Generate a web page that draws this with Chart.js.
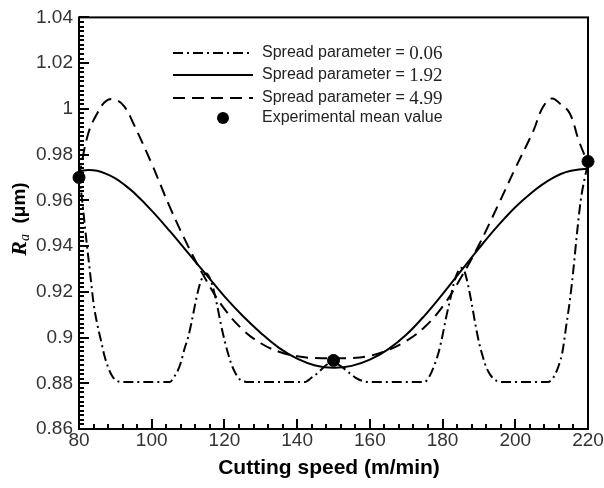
<!DOCTYPE html>
<html>
<head>
<meta charset="utf-8">
<script src="https://cdn.jsdelivr.net/npm/chart.js@4"></script>
<style>
  body{ margin:0; background:#fff; }
  #wrap{ width:604px; height:488px; position:relative; }
</style>
</head>
<body>
<div id="wrap"><canvas id="chart"></canvas></div>
<script>
// cutting speed grid for the two smooth curves
const speedMain = [80, 82.5, 85, 87.5, 90, 92.5, 95, 100, 105, 110, 115, 120, 125, 130, 135, 140, 145, 150,
  155, 160, 165, 170, 175, 180, 185, 190, 195, 200, 205, 207.5, 210, 212.5, 215, 217.5, 220];
const raSpread192 = [0.9726, 0.9733, 0.9729, 0.9716, 0.9696, 0.9668, 0.9635, 0.9555, 0.9465, 0.937, 0.9275,
  0.918, 0.9095, 0.902, 0.8955, 0.8908, 0.8878, 0.8868, 0.8876, 0.8903, 0.8948, 0.9012, 0.9095, 0.919,
  0.929, 0.939, 0.9485, 0.957, 0.964, 0.967, 0.9695, 0.9715, 0.9728, 0.9735, 0.9737];
const raSpread499 = [0.970, 0.989, 0.998, 1.0035, 1.004, 1.001, 0.9935, 0.976, 0.957, 0.940, 0.925, 0.9125,
  0.9035, 0.8975, 0.8938, 0.8918, 0.891, 0.891, 0.891, 0.892, 0.8945, 0.8985, 0.9045, 0.9135, 0.926,
  0.9405, 0.957, 0.974, 0.9905, 1.0005, 1.0045, 1.002, 0.998, 0.986, 0.976];

// narrow spread curve needs a finer grid
const speed006 = [80, 81, 82, 83, 84, 85, 86, 87, 88, 89, 90, 92, 105, 106, 107, 108, 109, 110, 111, 112, 113,
  114, 115, 116, 117, 118, 119, 120, 121, 122, 123, 124, 125, 127, 142, 144, 146, 148, 150, 152, 154, 156,
  158, 160, 175, 176, 177, 178, 179, 180, 181, 182, 183, 184, 185, 186, 187, 188, 189, 190, 191, 192, 193,
  194, 195, 197, 209, 210, 211, 212, 213, 214, 215, 216, 217, 218, 219, 220];
const raSpread006 = [0.972, 0.958, 0.943, 0.929, 0.915, 0.906, 0.899, 0.892, 0.887, 0.8835, 0.8815, 0.8805,
  0.8805, 0.8825, 0.885, 0.889, 0.895, 0.900, 0.907, 0.915, 0.922, 0.9265, 0.928, 0.926, 0.921, 0.914,
  0.906, 0.899, 0.893, 0.888, 0.8845, 0.882, 0.881, 0.8805, 0.8805, 0.8825, 0.885, 0.888, 0.889, 0.8875,
  0.885, 0.8825, 0.881, 0.8805, 0.8805, 0.882, 0.885, 0.889, 0.894, 0.901, 0.909, 0.916, 0.923, 0.928,
  0.9305, 0.929, 0.923, 0.915, 0.906, 0.898, 0.892, 0.887, 0.884, 0.882, 0.881, 0.8805, 0.8805, 0.8815,
  0.884, 0.888, 0.894, 0.905, 0.916, 0.930, 0.946, 0.960, 0.969, 0.976];

// experimental means
const speedExp = [80, 150, 220];
const raExp = [0.970, 0.890, 0.977];

const legendLabels = ['Spread parameter = ', 'Spread parameter = ', 'Spread parameter = ', 'Experimental mean value'];
const legendValues = ['0.06', '1.92', '4.99', ''];

const xTicks = [80, 100, 120, 140, 160, 180, 200, 220];
const yTicks = [0.86, 0.88, 0.9, 0.92, 0.94, 0.96, 0.98, 1, 1.02, 1.04];

const DASHDOT = [10, 4, 2, 4];
const DASHED = [12, 7];
const SANS = '"Liberation Sans", Arial, sans-serif';
const SERIF = '"Liberation Serif", "Times New Roman", serif';

function pts(xs, ys){ return xs.map((x, i) => ({x: x, y: ys[i]})); }

function lineSet(label, xs, ys, dash, mono){
  return {
    label: label, data: pts(xs, ys), borderColor: '#000', borderWidth: 2, borderDash: dash,
    pointRadius: 0, fill: false, tension: 0.4,
    cubicInterpolationMode: mono ? 'monotone' : 'default'
  };
}

// ticks inside the frame, box, legend and axis titles
const decor = {
  id: 'decor',
  afterDraw(chart){
    const ctx = chart.ctx;
    const a = chart.chartArea;
    const xs = chart.scales.x, ys = chart.scales.y;
    ctx.save();
    ctx.setLineDash([]);
    ctx.fillStyle = '#000';

    // frame
    ctx.lineWidth = 2;
    ctx.strokeStyle = '#000';
    ctx.strokeRect(a.left, a.top, a.right - a.left, a.bottom - a.top);

    // inward ticks: minor every 4 on x, every 0.002 on y
    for(let v = 80; v <= 220; v += 4){
      const px = Math.round(xs.getPixelForValue(v));
      const len = (v - 80) % 20 === 0 ? 10 : 5;
      ctx.fillRect(px - 1, a.bottom - len, 2, len);
    }
    for(let i = 0; i <= 90; i++){
      const py = Math.round(ys.getPixelForValue(0.86 + i * 0.002));
      const len = i % 10 === 0 ? 10 : 5;
      ctx.fillRect(a.left, py - 1, len, 2);
    }

    // legend
    const dashes = [DASHDOT, [], DASHED];
    const rows = [53, 75, 98, 118];
    ctx.textBaseline = 'middle';
    ctx.textAlign = 'left';
    rows.forEach((ry, i) => {
      ctx.fillStyle = '#000';
      if(i < 3){
        ctx.setLineDash(dashes[i]);
        ctx.lineWidth = 2;
        ctx.beginPath(); ctx.moveTo(173, ry); ctx.lineTo(253, ry); ctx.stroke();
        ctx.setLineDash([]);
      } else {
        ctx.beginPath(); ctx.arc(223, ry, 6, 0, Math.PI * 2); ctx.fill();
      }
      ctx.fillStyle = '#222';
      ctx.font = '16px ' + SANS;
      ctx.fillText(legendLabels[i], 262, ry);
      const w = ctx.measureText(legendLabels[i]).width;
      ctx.font = '19px ' + SERIF;
      ctx.fillText(legendValues[i], 262 + w, ry + 1);
    });

    // x title
    ctx.fillStyle = '#000';
    ctx.font = 'bold 21px ' + SANS;
    ctx.textAlign = 'center';
    ctx.fillText('Cutting speed (m/min)', 329, 468);

    // y title with subscript
    ctx.translate(20, 219);
    ctx.rotate(-Math.PI / 2);
    const p1 = 'R', p2 = 'a', p3 = '  (\u03bcm)';
    ctx.font = 'bold italic 22px ' + SERIF;
    const w1 = ctx.measureText(p1).width;
    ctx.font = 'italic 14px ' + SERIF;
    const w2 = ctx.measureText(p2).width;
    ctx.font = 'bold 19px ' + SANS;
    const w3 = ctx.measureText(p3).width;
    let sx = -(w1 + w2 + w3) / 2;
    ctx.textAlign = 'left';
    ctx.font = 'bold italic 22px ' + SERIF;
    ctx.fillText(p1, sx, 0); sx += w1;
    ctx.font = 'italic 14px ' + SERIF;
    ctx.fillText(p2, sx, 5); sx += w2;
    ctx.font = 'bold 19px ' + SANS;
    ctx.fillText(p3, sx, 0);
    ctx.restore();
  }
};

new Chart(document.getElementById('chart').getContext('2d'), {
  type: 'scatter',
  data: {
    datasets: [
      lineSet('Spread parameter = 0.06', speed006, raSpread006, DASHDOT, true),
      lineSet('Spread parameter = 1.92', speedMain, raSpread192, [], false),
      lineSet('Spread parameter = 4.99', speedMain, raSpread499, DASHED, false),
      {
        label: 'Experimental mean value', data: pts(speedExp, raExp), showLine: false,
        pointRadius: 6, pointBackgroundColor: '#000', pointBorderColor: '#000', clip: false
      }
    ]
  },
  options: {
    responsive: true,
    maintainAspectRatio: false,
    animation: false,
    showLine: true,
    layout: { padding: { top: 15, right: 16, left: 0, bottom: 0 } },
    plugins: { legend: { display: false }, tooltip: { enabled: false } },
    scales: {
      x: {
        type: 'linear', min: 80, max: 220,
        grid: { display: false, drawTicks: false }, border: { display: false },
        afterFit: s => { s.height = 59; },
        afterBuildTicks: s => { s.ticks = xTicks.map(v => ({value: v})); },
        ticks: { color: '#333', padding: 0, maxRotation: 0, font: { size: 19, family: SANS } }
      },
      y: {
        type: 'linear', min: 0.86, max: 1.04,
        grid: { display: false, drawTicks: false }, border: { display: false },
        afterFit: s => { s.width = 79; },
        afterBuildTicks: s => { s.ticks = yTicks.map(v => ({value: v})); },
        ticks: {
          color: '#333', padding: 6, font: { size: 19, family: SANS },
          callback: v => String(parseFloat(Number(v).toFixed(2)))
        }
      }
    }
  },
  plugins: [decor]
});
</script>
</body>
</html>
